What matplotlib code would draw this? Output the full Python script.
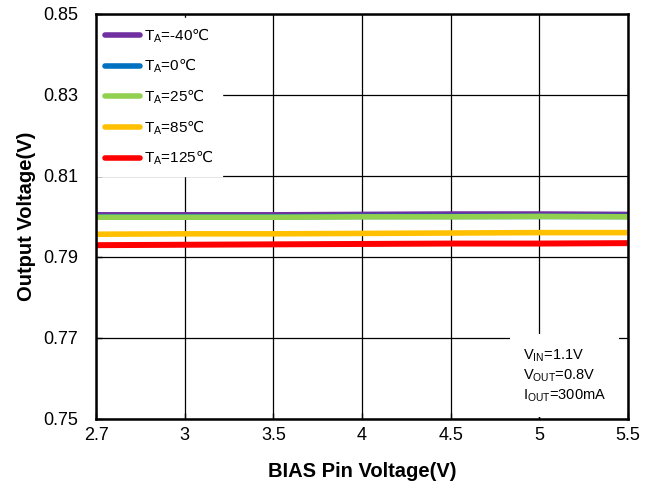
import matplotlib
matplotlib.use('Agg')
import matplotlib.pyplot as plt

plt.rcParams['font.family'] = ['Liberation Sans', 'DejaVu Sans']
plt.rcParams['mathtext.fontset'] = 'custom'
plt.rcParams['mathtext.rm'] = 'Liberation Sans'
plt.rcParams['mathtext.it'] = 'Liberation Sans:italic'
plt.rcParams['mathtext.bf'] = 'Liberation Sans:bold'
plt.rcParams['mathtext.sf'] = 'DejaVu Sans'

# bias pin voltage steps (V), plotted as evenly spaced categories
bias_v = ['2.7', '3', '3.5', '4', '4.5', '5', '5.5']

# output voltage (V) per ambient temperature
vout_m40 = [0.8006, 0.8006, 0.8006, 0.8007, 0.8008, 0.8008, 0.8007]
vout_0 = [0.7999, 0.7999, 0.7999, 0.8000, 0.8000, 0.8000, 0.8000]
vout_25 = [0.7998, 0.7998, 0.7998, 0.7999, 0.7999, 0.8000, 0.7999]
vout_85 = [0.7956, 0.7957, 0.7957, 0.7958, 0.7959, 0.7960, 0.7960]
vout_125 = [0.7929, 0.7930, 0.7931, 0.7932, 0.7933, 0.7933, 0.7934]

temps = ['-40', '0', '25', '85', '125']
y_ticks = [0.75, 0.77, 0.79, 0.81, 0.83, 0.85]


def temp_label(t):
    # subscript A plus the celsius sign, which Liberation Sans lacks
    return r'T$_\mathregular{A}$=' + t + r'$\mathsf{℃}$'


fig = plt.figure(figsize=(6.54, 4.82), dpi=100)
ax = fig.add_axes([0.147, 0.131, 0.813, 0.840])

x = list(range(len(bias_v)))
ax.plot(x, vout_m40, color='#7030a0', lw=2.8, label=temp_label(temps[0]), solid_capstyle='round')
ax.plot(x, vout_0, color='#0070c0', lw=4.0, label=temp_label(temps[1]), solid_capstyle='round')
ax.plot(x, vout_25, color='#92d050', lw=4.0, label=temp_label(temps[2]), solid_capstyle='round')
ax.plot(x, vout_85, color='#ffc000', lw=4.0, label=temp_label(temps[3]), solid_capstyle='round')
ax.plot(x, vout_125, color='#ff0000', lw=4.3, label=temp_label(temps[4]), solid_capstyle='round')

ax.set_xlim(0, len(bias_v) - 1)
ax.set_ylim(0.75, 0.85)
ax.set_xticks(x)
ax.set_xticklabels(bias_v)
ax.set_yticks(y_ticks)
ax.set_yticklabels(['%.2f' % v for v in y_ticks])
ax.tick_params(direction='in', length=4, width=1, labelsize=13, colors='black')
ax.tick_params(axis='x', pad=6)
ax.tick_params(axis='y', pad=13)
ax.grid(True, color='black', lw=0.9)
ax.set_axisbelow(True)
for s in ax.spines.values():
    s.set_linewidth(1.8)
    s.set_zorder(10)

ax.set_xlabel('BIAS Pin Voltage(V)', fontsize=14.5, fontweight='bold', labelpad=13)
ax.set_ylabel('Output Voltage(V)', fontsize=14.5, fontweight='bold', labelpad=5)

leg = ax.legend(loc='upper left', frameon=True, fontsize=11, handlelength=2.3,
                handletextpad=0.3, labelspacing=0.8, borderaxespad=0.0,
                borderpad=0.55, fancybox=False, bbox_to_anchor=(0.0, 0.99))
leg.get_frame().set_edgecolor('white')
leg.get_frame().set_facecolor('white')
leg.get_frame().set_alpha(1)
for line in leg.get_lines():
    line.set_linewidth(4.0)

ax.text(0.803, 0.107,
        'V$_\\mathregular{IN}$=1.1V\nV$_\\mathregular{OUT}$=0.8V\nI$_\\mathregular{OUT}$=300mA',
        transform=ax.transAxes, fontsize=10.5, va='center', ha='left', linespacing=1.3,
        bbox=dict(boxstyle='square,pad=0.9', fc='white', ec='none'))

fig.savefig('out.png', dpi=100)
